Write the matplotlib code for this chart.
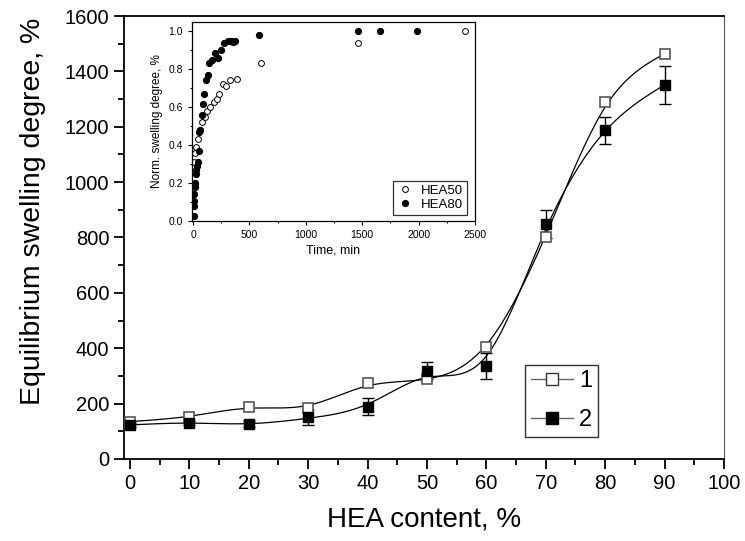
import numpy as np
import matplotlib
matplotlib.use("Agg")
import matplotlib.pyplot as plt
from matplotlib.ticker import MultipleLocator

plt.rcParams['font.family'] = ['Liberation Sans', 'DejaVu Sans']

# main chart data
hea = [0, 10, 20, 30, 40, 50, 60, 70, 80, 90]
swell_1 = [135, 152, 189, 185, 273, 290, 403, 802, 1290, 1463]
swell_2 = [123, 131, 126, 150, 189, 319, 336, 849, 1187, 1351]
err_2 = [8, 8, 10, 26, 30, 30, 48, 50, 48, 69]

# inset data (time in min, normalised swelling)
t_hea50 = [6, 15, 30, 41, 59, 83, 106, 124, 148, 184, 208, 232, 262, 291, 326, 392, 606, 1466, 2414]
v_hea50 = [0.31, 0.36, 0.39, 0.43, 0.48, 0.52, 0.55, 0.58, 0.60, 0.625, 0.64, 0.67, 0.72, 0.71,
           0.745, 0.75, 0.83, 0.94, 1.0]
t_hea80 = [6, 6, 9, 12, 18, 18, 24, 26, 32, 41, 50, 53, 65, 76, 85, 100, 112, 130, 144, 165,
           194, 218, 247, 270, 306, 332, 350, 374, 588, 1461, 1660, 1983]
v_hea80 = [0.026, 0.077, 0.105, 0.14, 0.18, 0.20, 0.25, 0.27, 0.29, 0.31, 0.37, 0.47, 0.48,
           0.556, 0.614, 0.67, 0.744, 0.77, 0.83, 0.85, 0.884, 0.858, 0.90, 0.937, 0.947,
           0.946, 0.942, 0.95, 0.98, 1.0, 1.0, 1.0]


# smoothing curve like the plotting program's spline (penalised fit on a fine grid)
def smooth(x, y, lam=150.0, step=0.5):
    x = np.asarray(x, float)
    grid = np.arange(x[0], x[-1] + step / 2, step)
    idx = np.rint((x - x[0]) / step).astype(int)
    w = np.zeros(len(grid))
    z = np.zeros(len(grid))
    w[idx] = 1.0
    w[idx[0]] = w[idx[-1]] = 10.0  # pin the ends
    z[idx] = y
    D = np.diff(np.eye(len(grid)), 2, axis=0)
    f = np.linalg.solve(np.diag(w) + lam * D.T @ D, w * z)
    return grid, f


fig = plt.figure(figsize=(7.45, 5.41), dpi=100)
ax = fig.add_axes([0.1664, 0.1516, 0.8054, 0.8188])

sx, sy = smooth(hea, swell_1)
ax.plot(sx, sy, color='black', lw=0.9, zorder=2)
sx, sy = smooth(hea, swell_2)
ax.plot(sx, sy, color='black', lw=0.9, zorder=2)

ax.errorbar(hea, swell_2, yerr=err_2, fmt='none', ecolor='black', elinewidth=1, capsize=4, zorder=3)
ax.plot(hea, swell_1, ls='none', marker='s', ms=7.5, mfc='white', mec='#555555', mew=1.2, zorder=4)
ax.plot(hea, swell_2, ls='none', marker='s', ms=7.5, mfc='black', mec='black', zorder=4)

# legend handles
h1, = ax.plot([], [], color='#666666', lw=1, marker='s', ms=8.5, mfc='white', mec='#333333')
h2, = ax.plot([], [], color='#666666', lw=1, marker='s', ms=8.5, mfc='black', mec='black')
leg = ax.legend([h1, h2], ['1', '2'], loc='lower right', bbox_to_anchor=(0.79, 0.05),
                fontsize=17, frameon=True, fancybox=False, handlelength=1.8,
                handletextpad=0.25, borderpad=0.25, labelspacing=0.7, borderaxespad=0)
leg.get_frame().set_edgecolor('black')
leg.get_frame().set_linewidth(1)

ax.set_xlim(-1, 100)
ax.set_ylim(0, 1600)
ax.xaxis.set_major_locator(MultipleLocator(10))
ax.xaxis.set_minor_locator(MultipleLocator(5))
ax.yaxis.set_major_locator(MultipleLocator(200))
ax.yaxis.set_minor_locator(MultipleLocator(100))
ax.tick_params(which='major', direction='out', length=7, width=1.3, labelsize=14.5)
ax.tick_params(which='minor', direction='out', length=4, width=1.3)
for sp in ax.spines.values():
    sp.set_linewidth(1.3)
ax.spines['right'].set_linewidth(0.8)
ax.spines['right'].set_color('#555555')
ax.set_xlabel('HEA content, %', fontsize=20, labelpad=10)
ax.set_ylabel('Equilibrium swelling degree, %', fontsize=20.5)
ax.yaxis.set_label_coords(-0.13, 0.56)

# inset
ins = fig.add_axes([0.2577, 0.5915, 0.3799, 0.3685])
ins.plot(t_hea50, v_hea50, ls='none', marker='o', ms=4.2, mfc='white', mec='black', mew=0.7, label='HEA50')
ins.plot(t_hea80, v_hea80, ls='none', marker='o', ms=4.2, mfc='black', mec='black', label='HEA80')
ins.set_xlim(-10, 2500)
ins.set_ylim(0, 1.05)
ins.xaxis.set_major_locator(MultipleLocator(500))
ins.xaxis.set_minor_locator(MultipleLocator(250))
ins.yaxis.set_major_locator(MultipleLocator(0.2))
ins.yaxis.set_minor_locator(MultipleLocator(0.1))
ins.tick_params(which='major', direction='out', length=3, width=0.8, labelsize=7.5)
ins.tick_params(which='minor', direction='out', length=1.5, width=0.8)
for sp in ins.spines.values():
    sp.set_linewidth(0.9)
ins.set_xlabel('Time, min', fontsize=9, labelpad=3)
ins.set_ylabel('Norm. swelling degree, %', fontsize=8.5, labelpad=4)
il = ins.legend(loc='lower right', bbox_to_anchor=(0.97, 0.03), fontsize=9.5, frameon=True,
                fancybox=False, handlelength=1.2, handletextpad=0.6, borderpad=0.3,
                labelspacing=0.15, borderaxespad=0)
il.get_frame().set_edgecolor('black')
il.get_frame().set_linewidth(0.9)

fig.savefig('out.png', dpi=100)
